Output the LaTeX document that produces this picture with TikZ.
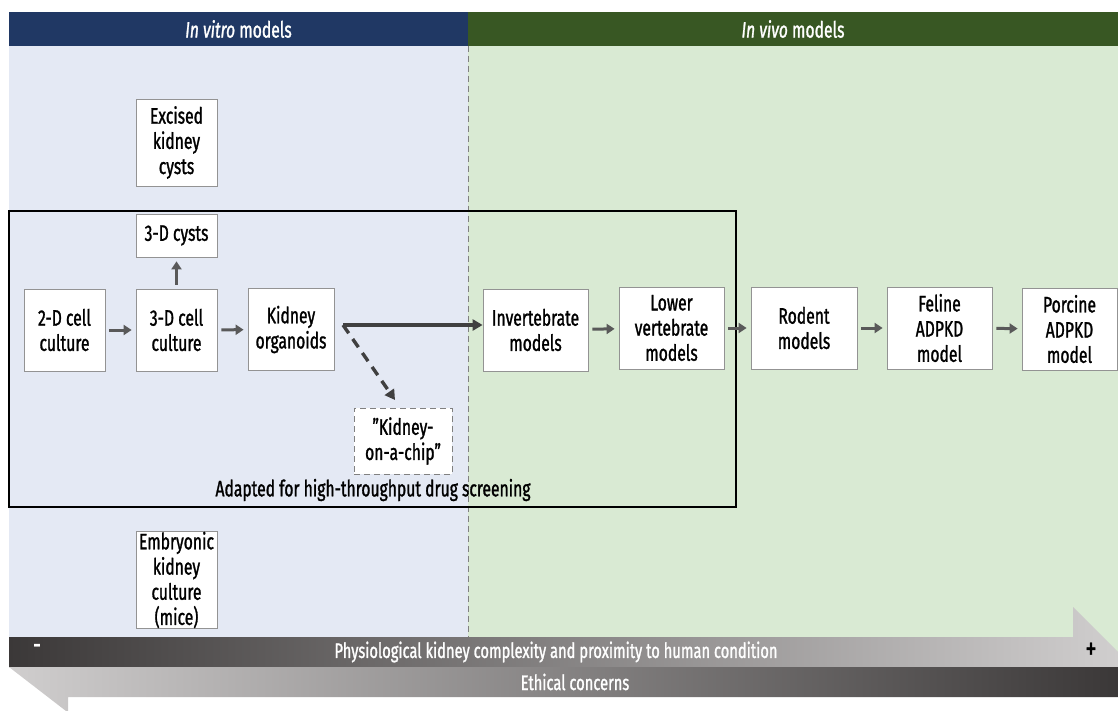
\documentclass[tikz,border=0pt]{standalone}
\usepackage{fontspec}
\setmainfont{Fira Sans}[FakeStretch=0.70,FakeBold=1.2]
\usetikzlibrary{arrows.meta}
\definecolor{vitroblue}{HTML}{203864}
\definecolor{vivogreen}{HTML}{385723}
\definecolor{vitrobg}{HTML}{E4E9F4}
\definecolor{vivobg}{HTML}{D9EAD3}
\definecolor{banddark}{HTML}{3B3838}
\definecolor{bandlight}{HTML}{D0CECE}
\definecolor{arrowgray}{HTML}{595959}
\definecolor{linegray}{HTML}{404040}

\begin{document}
\begin{tikzpicture}[x=0.5pt,y=-0.5pt,
    box/.style={draw=gray!85,fill=white,align=center,inner sep=0pt,
      minimum height=41pt,font=\fontsize{11.2}{12.6}\selectfont},
    chipbox/.style={box,densely dashed,draw=gray},
    arr/.style={draw=arrowgray,line width=1.5pt,
      -{Triangle[length=4pt,width=5pt]},shorten <=2pt,shorten >=2pt},
    bigarr/.style={draw=linegray,line width=1.7pt,
      -{Triangle[length=5pt,width=5.5pt]}},
    head/.style={text=white,font=\fontsize{11.2}{12}\selectfont},
    bandtext/.style={text=white,font=\fontsize{10.5}{11}\selectfont}]
  \useasboundingbox (0,0) rectangle (1118,711);
  % backgrounds and headers
  \fill[vitrobg] (9,46) rectangle (468,637);
  \fill[vivobg] (468,46) rectangle (1118,667);
  \fill[vitroblue] (9,12) rectangle (468,46);
  \fill[vivogreen] (468,12) rectangle (1118,46);
  \draw[gray,densely dashed,line width=0.3pt] (468,46) -- (468,637);
  \node[head] (vitro) at (238.5,29) {\textit{In vitro} models};
  \node[head] (vivo) at (793,29) {\textit{In vivo} models};
  % screening frame
  \draw[line width=0.8pt] (9,211) rectangle (736,507);
  \node[font=\fontsize{11.2}{12}\selectfont] (screen) at (373,490)
    {Adapted for high-throughput drug screening};
  % in vitro
  \node[box,minimum width=40.5pt,minimum height=43.5pt] (excised) at (176.5,142.5) {Excised\\kidney\\cysts};
  \node[box,minimum width=40.5pt,minimum height=21.5pt] (cysts) at (176.5,235.5) {3-D cysts};
  \node[box,minimum width=40.5pt] (cell2d) at (64.5,330) {2-D cell\\culture};
  \node[box,minimum width=40.5pt] (cell3d) at (176.5,330) {3-D cell\\culture};
  \node[box,minimum width=43pt] (organoids) at (291,329.5) {Kidney\\organoids};
  \node[chipbox,minimum width=49pt,minimum height=33pt] (chip) at (403,441) {"Kidney-\\on-a-chip"};
  \node[box,minimum width=40.5pt,minimum height=48pt] (embryo) at (176.5,580) {Embryonic\\kidney\\culture\\(mice)};
  % in vivo
  \node[box,minimum width=52.5pt] (invert) at (535.5,330) {Invertebrate\\models};
  \node[box,minimum width=52.5pt] (lowervert) at (671.5,328) {Lower\\vertebrate\\models};
  \node[box,minimum width=53pt] (rodent) at (804,328) {Rodent\\models};
  \node[box,minimum width=52.5pt] (feline) at (939.5,328) {Feline\\ADPKD\\model};
  \node[box,minimum width=47.5pt] (porcine) at (1069.5,329) {Porcine\\ADPKD\\model};
  % connectors
  \draw[arr] (cell3d.north) -- (cysts.south);
  \draw[arr] (cell2d) -- (cell3d);
  \draw[arr] (cell3d) -- (organoids);
  \coordinate (split) at (343,325);
  \coordinate (chiptip) at (395,400);
  \draw[bigarr] (split) -- (split -| invert.west);
  \draw[bigarr,dash pattern=on 5pt off 3.5pt] (split) -- (chiptip);
  \draw[arr] (invert) -- (lowervert);
  \draw[arr] (lowervert) -- (rodent);
  \draw[arr] (rodent) -- (feline);
  \draw[arr] (feline) -- (porcine);
  % gradient arrows
  \shade[left color=banddark,middle color=banddark,right color=bandlight]
    (9,637) -- (1073,637) -- (1073,607) -- (1118,652) -- (1118,667) -- (9,667) -- cycle;
  \shade[left color=bandlight,middle color=banddark,right color=banddark]
    (9,667) -- (1118,667) -- (1118,697) -- (68,697) -- (68,711) -- (66,711) -- cycle;
  \node[bandtext,font=\fontsize{14}{14}\selectfont] (minus) at (37,649) {-};
  \node[bandtext] (complexity) at (556,652) {Physiological kidney complexity and proximity to human condition};
  \node[font=\fontsize{16}{16}\selectfont] (plus) at (1091,651) {+};
  \node[bandtext] (ethics) at (575,682) {Ethical concerns};
\end{tikzpicture}
\end{document}
